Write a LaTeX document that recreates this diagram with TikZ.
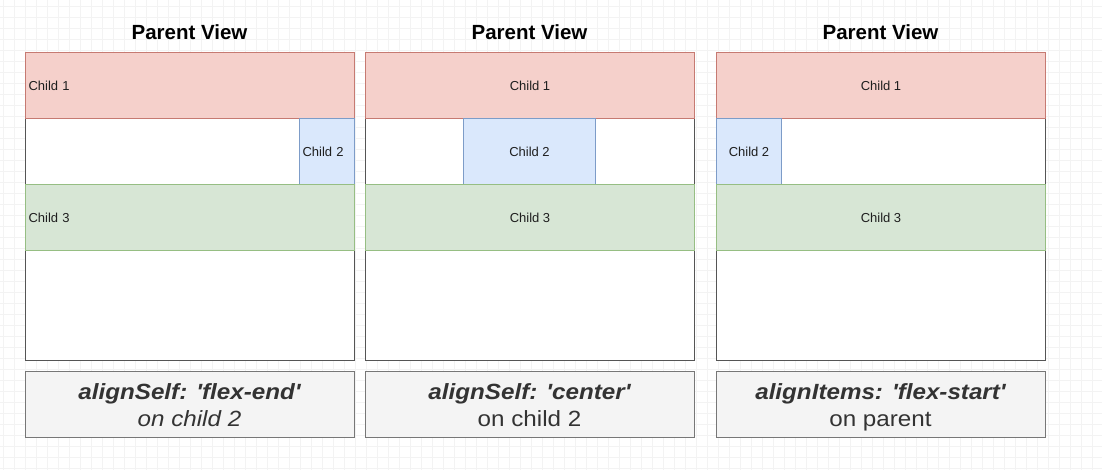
\documentclass[tikz,border=0pt]{standalone}
\usepackage{fontspec}
\setmainfont{Liberation Sans}
\newfontfamily\capfont[FakeStretch=1.1]{Liberation Sans}
\definecolor{redfill}{HTML}{F5D0CB}
\definecolor{redline}{HTML}{C67A72}
\definecolor{bluefill}{HTML}{DAE8FC}
\definecolor{blueline}{HTML}{7D9CC8}
\definecolor{greenfill}{HTML}{D7E6D5}
\definecolor{greenline}{HTML}{96BE83}
\definecolor{capfill}{HTML}{F4F4F4}
\definecolor{capline}{HTML}{777777}
\definecolor{captext}{HTML}{333333}
\definecolor{gridc}{HTML}{F3F3F3}
\definecolor{parentline}{HTML}{555555}
\begin{document}
\begin{tikzpicture}[x=1pt,y=-1pt,
  box/.style={rectangle, anchor=north west, inner sep=0pt, line width=1pt},
  parentbox/.style={box, draw=parentline, fill=white, line width=1.2pt, minimum width=329pt, minimum height=308pt},
  childone/.style={box, draw=redline, fill=redfill},
  childtwo/.style={box, draw=blueline, fill=bluefill},
  childthree/.style={box, draw=greenline, fill=greenfill},
  rowbox/.style={minimum width=329pt, minimum height=66pt},
  lefttext/.style={text width=323pt, inner xsep=3pt, align=left},
  childfont/.style={font=\fontsize{13pt}{15pt}\selectfont, text=black!88},
  capbox/.style={box, draw=capline, fill=capfill, minimum width=329pt, minimum height=66pt},
  title/.style={anchor=base, font=\fontsize{20.5pt}{24pt}\selectfont\bfseries, inner sep=0pt},
  capone/.style={anchor=base, inner sep=0pt, text=captext, font=\capfont\fontsize{22pt}{27pt}\selectfont\bfseries\itshape},
  captwo/.style={anchor=base, inner sep=0pt, text=captext, font=\capfont\fontsize{22pt}{27pt}\selectfont},
]
\useasboundingbox (0,0) rectangle (1102,470);
\fill[white] (0,0) rectangle (1102,470);
% grid
\foreach \gx in {3,14,...,1102} \draw[gridc, line width=0.7pt] (\gx,0) -- (\gx,470);
\foreach \gy in {6,17,...,470} \draw[gridc, line width=0.7pt] (0,\gy) -- (1102,\gy);

% titles
\node[title] (t1) at (189.5,40) {Parent View};
\node[title] (t2) at (529.5,40) {Parent View};
\node[title] (t3) at (880.5,40) {Parent View};

% panel 1
\node[parentbox] (p1) at (25,52) {};
\node[childone, rowbox, childfont, lefttext] (a1) at (25,52) {Child 1};
\node[childtwo, childfont, minimum width=55pt, minimum height=66pt, text width=49pt, inner xsep=3pt, align=left] (a2) at (299,118) {Child 2};
\node[childthree, rowbox, childfont, lefttext] (a3) at (25,184) {Child 3};

% panel 2
\node[parentbox] (p2) at (365,52) {};
\node[childone, rowbox, childfont] (b1) at (365,52) {Child 1};
\node[childtwo, childfont, minimum width=132pt, minimum height=66pt] (b2) at (463,118) {Child 2};
\node[childthree, rowbox, childfont] (b3) at (365,184) {Child 3};

% panel 3
\node[parentbox] (p3) at (716,52) {};
\node[childone, rowbox, childfont] (c1) at (716,52) {Child 1};
\node[childtwo, childfont, minimum width=65pt, minimum height=66pt] (c2) at (716,118) {Child 2};
\node[childthree, rowbox, childfont] (c3) at (716,184) {Child 3};

% captions
\node[capbox] (k1) at (25,371) {};
\node[capbox] (k2) at (365,371) {};
\node[capbox] (k3) at (716,371) {};
\node[capone] (k1a) at (189.5,399) {alignSelf: 'flex-end'};
\node[captwo, font=\capfont\fontsize{22pt}{27pt}\selectfont\itshape] (k1b) at (189.5,426) {on child 2};
\node[capone] (k2a) at (529.5,399) {alignSelf: 'center'};
\node[captwo] (k2b) at (529.5,426) {on child 2};
\node[capone] (k3a) at (880.5,399) {alignItems: 'flex-start'};
\node[captwo] (k3b) at (880.5,426) {on parent};
\end{tikzpicture}
\end{document}
